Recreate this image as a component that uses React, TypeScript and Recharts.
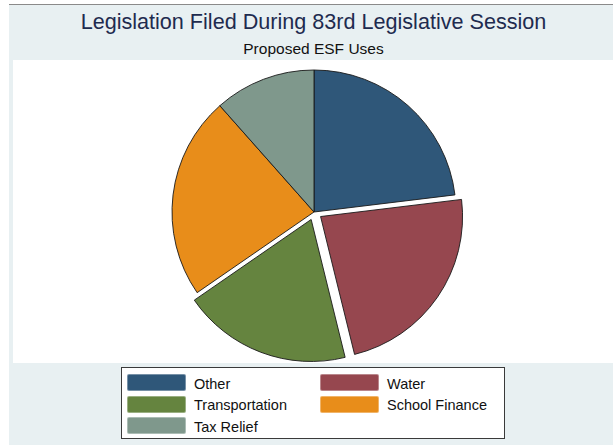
import React from 'react';
import { PieChart, Pie, Cell, Legend } from 'recharts';

const categories = ['Other', 'Water', 'Transportation', 'School Finance', 'Tax Relief'];
const billCounts = [6, 6, 5, 6, 3];
const sliceColors = ['#2f5779', '#96474f', '#65843f', '#e88d1a', '#7f988c'];
const explodedSlices = [false, true, true, false, false];

const titleText = 'Legislation Filed During 83rd Legislative Session';
const subtitleText = 'Proposed ESF Uses';

const CX = 314;
const CY = 212;
const R = 142;
const EXPLODE = 8;
const FONT = '"Liberation Sans", Arial, Helvetica, sans-serif';

const data = categories.map((name, i) => ({ name, value: billCounts[i] }));
const total = billCounts.reduce((a, b) => a + b, 0);

function offsetFor(i: number) {
  if (!explodedSlices[i]) return { dx: 0, dy: 0 };
  const before = billCounts.slice(0, i).reduce((a, b) => a + b, 0);
  const midFrac = (before + billCounts[i] / 2) / total;
  const deg = 90 - midFrac * 360;
  const rad = (deg * Math.PI) / 180;
  return { dx: EXPLODE * Math.cos(rad), dy: -EXPLODE * Math.sin(rad) };
}

const legendOrder = [0, 1, 2, 3, 4];

function LegendBox() {
  return (
    <div
      style={{
        position: 'absolute',
        left: 121,
        top: 367,
        width: 384,
        height: 72,
        border: '1px solid #3a3a3a',
        background: '#ffffff',
        boxSizing: 'border-box',
        fontFamily: FONT,
      }}
    >
      {legendOrder.map((idx, k) => {
        const col = k % 2;
        const row = Math.floor(k / 2);
        return (
          <div
            key={categories[idx]}
            style={{
              position: 'absolute',
              left: 5 + col * 193,
              top: 5.5 + row * 21.7,
              height: 18,
              display: 'flex',
              alignItems: 'center',
            }}
          >
            <div
              style={{
                width: 59,
                height: 17,
                background: sliceColors[idx],
                borderRadius: 2,
                boxSizing: 'border-box',
                border: '1px solid rgba(255,255,255,0.35)',
              }}
            />
            <span
              style={{
                marginLeft: 8,
                fontSize: 14.5,
                lineHeight: '14.5px',
                paddingTop: 3,
                color: '#111',
                whiteSpace: 'nowrap',
              }}
            >
              {categories[idx]}
            </span>
          </div>
        );
      })}
    </div>
  );
}

export default function App() {
  return (
    <div
      style={{
        position: 'absolute',
        left: 0,
        top: 0,
        width: 613,
        height: 446,
        background: '#ffffff',
        overflow: 'hidden',
      }}
    >
      <div
        style={{
          position: 'absolute',
          left: 9,
          top: 4,
          width: 604,
          height: 441,
          background: '#e8f0f2',
          borderTop: '1px solid #8a8a8a',
          boxSizing: 'border-box',
        }}
      />
      <div
        style={{
          position: 'absolute',
          left: 13,
          top: 60,
          width: 600,
          height: 303,
          background: '#ffffff',
        }}
      />
      <div
        style={{
          position: 'absolute',
          left: 0,
          top: 11,
          width: 627,
          textAlign: 'center',
          fontFamily: FONT,
          fontSize: 21.6,
          lineHeight: '21.6px',
          color: '#1e2b4f',
          whiteSpace: 'nowrap',
        }}
      >
        {titleText}
      </div>
      <div
        style={{
          position: 'absolute',
          left: 0,
          top: 41,
          width: 627,
          textAlign: 'center',
          fontFamily: FONT,
          fontSize: 15.5,
          lineHeight: '15.5px',
          color: '#111111',
          whiteSpace: 'nowrap',
        }}
      >
        {subtitleText}
      </div>
      <div style={{ position: 'absolute', left: 0, top: 0 }}>
        <PieChart width={613} height={446} margin={{ top: 0, right: 0, bottom: 0, left: 0 }}>
          {categories.map((cat, i) => {
            const { dx, dy } = offsetFor(i);
            return (
              <Pie
                key={cat}
                data={data}
                dataKey="value"
                nameKey="name"
                cx={CX + dx}
                cy={CY + dy}
                outerRadius={R}
                innerRadius={0}
                startAngle={90}
                endAngle={-270}
                isAnimationActive={false}
                legendType="none"
                label={false}
                labelLine={false}
              >
                {data.map((d, j) => (
                  <Cell
                    key={d.name}
                    fill={j === i ? sliceColors[j] : 'none'}
                    stroke={j === i ? '#1a1a1a' : 'none'}
                    strokeWidth={j === i ? 0.9 : 0}
                  />
                ))}
              </Pie>
            );
          })}
          <Legend content={() => null} />
        </PieChart>
      </div>
      <LegendBox />
    </div>
  );
}
